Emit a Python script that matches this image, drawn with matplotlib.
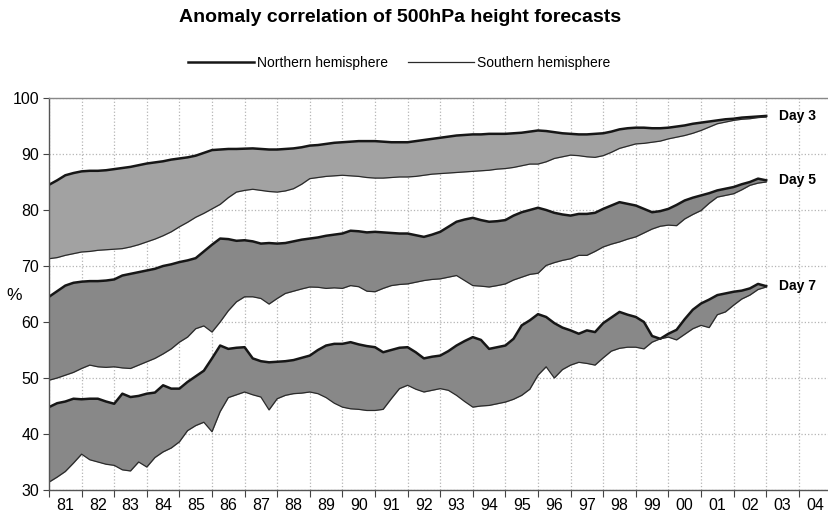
import matplotlib.pyplot as plt
import numpy as np
from matplotlib.lines import Line2D

plt.rcParams["font.family"] = ["Liberation Sans", "DejaVu Sans"]

# quarterly values, 1981.0 -> 2003.0 (one row per year)
years = np.arange(1981, 2003.001, 0.25)
year_labels = ["81", "82", "83", "84", "85", "86", "87", "88", "89", "90", "91", "92",
               "93", "94", "95", "96", "97", "98", "99", "00", "01", "02", "03", "04"]

day3_nh = [
    84.5, 85.3, 86.2, 86.6,
    86.9, 87.0, 87.0, 87.1,
    87.3, 87.5, 87.7, 88.0,
    88.3, 88.5, 88.7, 89.0,
    89.2, 89.4, 89.7, 90.2,
    90.7, 90.8, 90.9, 90.9,
    90.95, 91.0, 90.9, 90.8,
    90.8, 90.9, 91.0, 91.2,
    91.5, 91.6, 91.8, 92.0,
    92.1, 92.2, 92.3, 92.3,
    92.3, 92.2, 92.1, 92.1,
    92.1, 92.3, 92.5, 92.7,
    92.9, 93.1, 93.3, 93.4,
    93.5, 93.5, 93.6, 93.6,
    93.6, 93.7, 93.8, 94.0,
    94.2, 94.1, 93.9, 93.7,
    93.6, 93.5, 93.5, 93.6,
    93.7, 94.0, 94.4, 94.6,
    94.7, 94.7, 94.6, 94.6,
    94.7, 94.9, 95.1, 95.4,
    95.6, 95.8, 96.0, 96.2,
    96.3, 96.5, 96.6, 96.7,
    96.8,
]
day3_sh = [
    71.3, 71.5, 71.9, 72.2,
    72.5, 72.6, 72.8, 72.9,
    73.0, 73.1, 73.4, 73.8,
    74.3, 74.8, 75.4, 76.1,
    77.0, 77.8, 78.7, 79.4,
    80.2, 81.0, 82.2, 83.2,
    83.5, 83.7, 83.5, 83.3,
    83.2, 83.4, 83.8, 84.6,
    85.6, 85.8, 86.0, 86.1,
    86.2, 86.1, 86.0, 85.8,
    85.7, 85.7, 85.8, 85.9,
    85.9, 86.0, 86.2, 86.4,
    86.5, 86.6, 86.7, 86.8,
    86.9, 87.0, 87.1, 87.3,
    87.4, 87.6, 87.9, 88.2,
    88.2, 88.6, 89.2, 89.5,
    89.8, 89.7, 89.5, 89.4,
    89.7, 90.3, 91.0, 91.4,
    91.8, 91.9, 92.1, 92.3,
    92.7, 93.0, 93.3, 93.7,
    94.2, 94.8, 95.4, 95.7,
    96.0, 96.2, 96.3, 96.5,
    96.6,
]
day5_nh = [
    64.5, 65.5, 66.5, 67.0,
    67.2, 67.3, 67.3, 67.4,
    67.6, 68.3, 68.6, 68.9,
    69.2, 69.5, 70.0, 70.3,
    70.7, 71.0, 71.4, 72.6,
    73.8, 74.9, 74.8, 74.5,
    74.6, 74.4, 74.0, 74.1,
    74.0, 74.1, 74.4, 74.7,
    74.9, 75.1, 75.4, 75.6,
    75.8, 76.3, 76.2, 76.0,
    76.1, 76.0, 75.9, 75.8,
    75.8, 75.5, 75.2, 75.6,
    76.1, 77.0, 77.9, 78.3,
    78.6, 78.2, 77.9, 78.0,
    78.2, 79.0, 79.6, 80.0,
    80.4, 80.0, 79.5, 79.2,
    79.0, 79.3, 79.3, 79.5,
    80.2, 80.8, 81.4, 81.1,
    80.8, 80.2, 79.6, 79.8,
    80.2, 80.9, 81.7, 82.2,
    82.6, 83.0, 83.5, 83.8,
    84.1, 84.6, 85.0, 85.6,
    85.3,
]
day5_sh = [
    49.6, 50.0, 50.5, 51.0,
    51.7, 52.3, 52.0, 51.9,
    52.0, 51.8, 51.7, 52.3,
    52.9, 53.5, 54.3, 55.2,
    56.4, 57.3, 58.8, 59.3,
    58.2, 60.0, 62.0, 63.6,
    64.5, 64.5, 64.2, 63.2,
    64.2, 65.1, 65.5, 65.9,
    66.25, 66.2, 66.0, 66.1,
    66.0, 66.5, 66.3, 65.5,
    65.4, 66.0, 66.5, 66.7,
    66.8, 67.1, 67.4, 67.6,
    67.7, 68.0, 68.3, 67.4,
    66.5, 66.4, 66.25, 66.5,
    66.8, 67.5, 68.0, 68.5,
    68.7, 70.1, 70.6, 71.0,
    71.3, 71.9, 71.9, 72.6,
    73.4, 73.9, 74.3, 74.8,
    75.2, 75.9, 76.6, 77.1,
    77.3, 77.2, 78.4, 79.2,
    79.9, 81.2, 82.3, 82.6,
    82.9, 83.6, 84.4, 84.8,
    85.0,
]
day7_nh = [
    44.8, 45.5, 45.8, 46.3,
    46.2, 46.3, 46.3, 45.8,
    45.4, 47.2, 46.6, 46.8,
    47.2, 47.4, 48.7, 48.1,
    48.1, 49.3, 50.3, 51.3,
    53.5, 55.8, 55.2, 55.4,
    55.5, 53.5, 53.0, 52.8,
    52.9, 53.0, 53.2, 53.6,
    54.0, 55.0, 55.8, 56.1,
    56.1, 56.4, 56.0, 55.7,
    55.5, 54.6, 55.0, 55.4,
    55.5, 54.6, 53.5, 53.8,
    54.0, 54.8, 55.8, 56.6,
    57.3, 56.8, 55.2, 55.5,
    55.8, 57.0, 59.4, 60.3,
    61.4, 60.9, 59.8, 59.0,
    58.5, 57.9, 58.5, 58.2,
    59.8, 60.8, 61.8, 61.3,
    60.9, 60.0, 57.5, 57.0,
    57.9, 58.6, 60.5, 62.2,
    63.3, 64.0, 64.8, 65.1,
    65.4, 65.6, 66.0, 66.8,
    66.4,
]
day7_sh = [
    31.4, 32.3, 33.3, 34.8,
    36.4, 35.4, 35.0, 34.6,
    34.4, 33.6, 33.4, 35.0,
    34.1, 35.8, 36.8, 37.5,
    38.6, 40.6, 41.5, 42.1,
    40.4, 44.0, 46.5, 47.0,
    47.5, 47.0, 46.6, 44.3,
    46.3, 46.9, 47.2, 47.3,
    47.5, 47.2, 46.5, 45.5,
    44.8, 44.5, 44.4, 44.2,
    44.2, 44.4, 46.3, 48.1,
    48.7, 48.0, 47.5, 47.8,
    48.1, 47.8, 46.9, 45.8,
    44.8, 45.0, 45.1, 45.4,
    45.7, 46.2, 46.9, 48.0,
    50.5, 52.0, 50.0, 51.5,
    52.3, 52.8, 52.6, 52.3,
    53.6, 54.8, 55.3, 55.5,
    55.5, 55.2, 56.4, 57.0,
    57.3, 56.8, 57.8, 58.8,
    59.4, 59.0, 61.3, 61.8,
    63.0, 64.1, 64.8, 65.8,
    66.25,
]

bands = [
    ("Day 3", day3_nh, day3_sh, "#a2a2a2"),
    ("Day 5", day5_nh, day5_sh, "#888888"),
    ("Day 7", day7_nh, day7_sh, "#888888"),
]

fig = plt.figure(figsize=(8.29, 5.13), dpi=100)
ax = fig.add_axes([49 / 829, 23 / 513, 780 / 829, 392 / 513])

for label, nh, sh, color in bands:
    ax.fill_between(years, sh, nh, color=color, lw=0)
    ax.plot(years, nh, color="#161616", lw=1.8)
    ax.plot(years, sh, color="#2a2a2a", lw=0.9)
    ax.text(years[-1] + 0.38, nh[-1], label, fontsize=10, fontweight="bold",
            va="center", ha="left")

ax.set_xlim(1981, 1981 + 780 / 32.6)
ax.set_ylim(30, 100)
ax.set_yticks(np.arange(30, 101, 10))
ax.set_xticks(np.arange(1981, 2005))
ax.set_xticks(np.arange(1981.5, 2005), minor=True)
ax.set_xticklabels(year_labels, minor=True)
ax.tick_params(axis="x", which="major", labelbottom=False, direction="out",
               length=5, color="#444444")
ax.tick_params(axis="x", which="minor", length=0, labelsize=11.5, pad=6)
ax.tick_params(axis="y", direction="out", length=4, labelsize=11.5, pad=3,
               color="#444444")
ax.grid(True, which="major", color="#b5b5b5", linestyle=":", lw=0.9)
ax.set_axisbelow(True)
for side in ["left", "bottom", "top"]:
    ax.spines[side].set_color("#555555")
    ax.spines[side].set_linewidth(1.0)
ax.spines["top"].set_color("#888888")
ax.spines["right"].set_visible(False)

fig.text(6 / 829, 1 - 295 / 513, "%", fontsize=12.5, va="center", ha="left")
fig.text(400 / 829, 1 - 17 / 513, "Anomaly correlation of 500hPa height forecasts",
         fontsize=14, fontweight="bold", ha="center", va="center")

handles = [Line2D([], [], color="#161616", lw=1.8),
           Line2D([], [], color="#2a2a2a", lw=0.9)]
fig.legend(handles, ["Northern hemisphere", "Southern hemisphere"],
           loc="center", bbox_to_anchor=(399 / 829, 1 - 63 / 513), ncol=2,
           frameon=False, fontsize=10, handlelength=4.8, handletextpad=0.2,
           columnspacing=1.4)

fig.savefig("out.png", dpi=100)
